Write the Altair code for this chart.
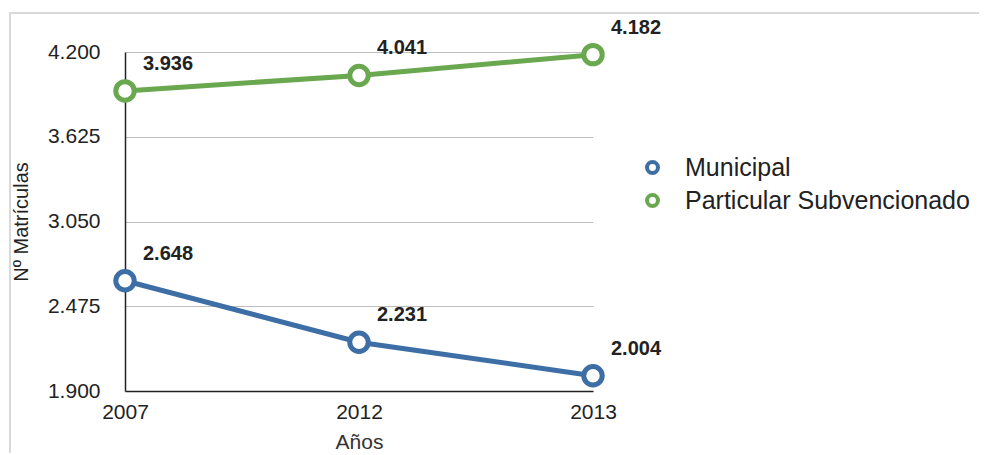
import altair as alt
import pandas as pd

years = ["2007", "2012", "2013"]
municipal = [2648, 2231, 2004]
particular = [3936, 4041, 4182]
series_names = ["Municipal", "Particular Subvencionado"]
y_ticks = [1900, 2475, 3050, 3625, 4200]
colors = ["#3d6ea6", "#6aa84f"]


def fmt(v):
    return f"{v:,}".replace(",", ".")


rows = []
for name, vals in zip(series_names, [municipal, particular]):
    for y, v in zip(years, vals):
        rows.append({"year": y, "value": v, "serie": name, "label": fmt(v)})
df = pd.DataFrame(rows)

FONT = "Liberation Sans"

x_enc = alt.X(
    "year:O",
    scale=alt.Scale(type="point", padding=0),
    axis=alt.Axis(
        title="Años", labelAngle=0, ticks=False, labelPadding=10,
        labelFontSize=21, titleFontSize=21, titleFontWeight="normal",
        titlePadding=9, domainColor="#222222", domainWidth=1.5,
        labelColor="#222222", titleColor="#333333", grid=False,
    ),
)
y_enc = alt.Y(
    "value:Q",
    scale=alt.Scale(domain=[1900, 4200], nice=False, zero=False),
    axis=alt.Axis(
        title="Nº Matrículas", values=y_ticks, ticks=False, labelPadding=25,
        labelExpr="replace(format(datum.value, ',.0f'), ',', '.')",
        labelFontSize=21, titleFontSize=20, titleFontWeight="normal",
        titlePadding=16, domainColor="#222222", domainWidth=1.5,
        gridColor="#bdbdbd", gridWidth=1,
        labelColor="#222222", titleColor="#222222",
    ),
)
color_enc = alt.Color(
    "serie:N",
    scale=alt.Scale(domain=series_names, range=colors),
    legend=alt.Legend(
        title=None, orient="none", legendX=515, legendY=103,
        symbolType="circle", symbolFillColor="white", symbolStrokeWidth=4,
        symbolSize=120, labelFontSize=25, labelFont=FONT, labelColor="#222222",
        rowPadding=6, labelOffset=20, labelLimit=400,
    ),
)

base = alt.Chart(df)

border = base.mark_rect(fill=None, stroke="#d9d9d9", strokeWidth=1.5).encode(
    x=alt.value(-115), x2=alt.value(1000), y=alt.value(-39), y2=alt.value(600)
)

lines = base.mark_line(strokeWidth=5).encode(x=x_enc, y=y_enc, color=color_enc)
points = base.mark_point(
    shape="circle", filled=False, fill="white", fillOpacity=1, size=340, strokeWidth=5, opacity=1
).encode(x=x_enc, y=y_enc, color=alt.Color("serie:N", scale=alt.Scale(domain=series_names, range=colors), legend=None))
labels = base.mark_text(
    align="left", baseline="middle", dx=18, dy=-27, fontSize=20,
    fontWeight="bold", color="#222222", font=FONT,
).encode(x=x_enc, y=y_enc, text="label:N")

chart = (
    alt.layer(border, lines, points, labels)
    .properties(
        width=468, height=339,
        autosize=alt.AutoSizeParams(type="none"),
        padding={"left": 117, "top": 44, "right": 386, "bottom": 62},
    )
    .configure(font=FONT)
    .configure_view(stroke=None)
    .configure_axis(labelFont=FONT, titleFont=FONT)
)

chart.save("out.html", embed_options={"renderer": "svg", "actions": False})
